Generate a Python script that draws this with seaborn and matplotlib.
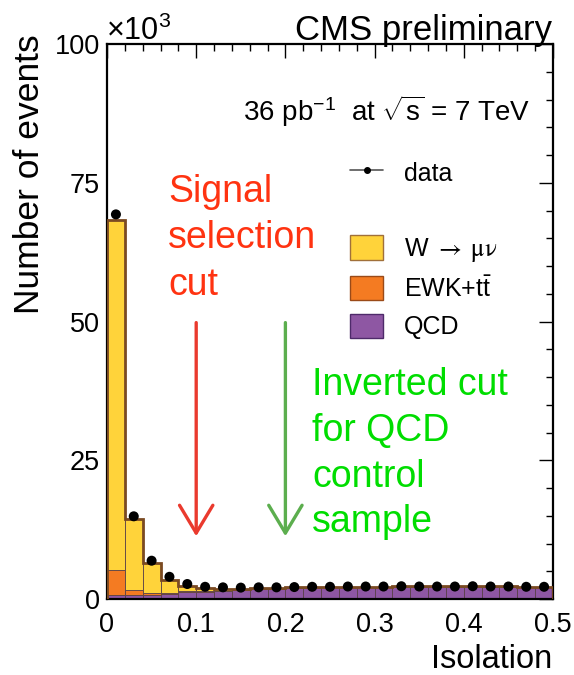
import numpy as np
import pandas as pd
import matplotlib
matplotlib.use("Agg")
import matplotlib.pyplot as plt
import seaborn as sns
from matplotlib.patches import Patch
from matplotlib.lines import Line2D

# ---------------- data (in units of 10^3 events) ----------------
bin_edges = [0.00, 0.02, 0.04, 0.06, 0.08, 0.10, 0.12, 0.14, 0.16, 0.18, 0.20,
             0.22, 0.24, 0.26, 0.28, 0.30, 0.32, 0.34, 0.36, 0.38, 0.40,
             0.42, 0.44, 0.46, 0.48, 0.50]
data_k = [69.3, 14.9, 6.9, 4.0, 2.7, 2.2, 2.1, 2.05, 2.1, 2.1, 2.15, 2.2, 2.2,
          2.25, 2.25, 2.25, 2.3, 2.25, 2.25, 2.25, 2.3, 2.25, 2.25, 2.2, 2.2]
w_k = [63.0, 12.9, 5.35, 2.3, 0.98, 0.55, 0.22, 0.18, 0.14, 0.10, 0.08, 0.07,
       0.06, 0.05, 0.05, 0.05, 0.05, 0.05, 0.05, 0.05, 0.05, 0.05, 0.05, 0.05, 0.05]
ewk_k = [4.6, 0.8, 0.35, 0.2, 0.12, 0.10, 0.08, 0.07, 0.06, 0.05, 0.05, 0.05,
         0.05, 0.05, 0.05, 0.05, 0.05, 0.05, 0.05, 0.05, 0.05, 0.05, 0.05, 0.05, 0.05]
qcd_k = [0.7, 0.8, 0.8, 0.9, 1.25, 1.35, 1.45, 1.6, 1.75, 1.85, 1.95, 2.05, 2.1,
         2.15, 2.15, 2.15, 2.2, 2.2, 2.2, 2.2, 2.2, 2.2, 2.2, 2.15, 2.15]
processes = ["W", "EWK", "QCD"]
legend_labels = [r"W $\rightarrow\ \mathrm{\mu\nu}$", r"EWK+t$\bar{\mathrm{t}}$", "QCD"]
x_ticks = [0, 0.1, 0.2, 0.3, 0.4, 0.5]
x_ticklabels = ["0", "0.1", "0.2", "0.3", "0.4", "0.5"]
y_ticks = [0, 25, 50, 75, 100]
y_ticklabels = ["0", "25", "50", "75", "100"]

# ---------------- style ----------------
sns.set_theme(style="white")
plt.rcParams["font.family"] = ["Liberation Sans", "DejaVu Sans"]
plt.rcParams["mathtext.fontset"] = "custom"
plt.rcParams["mathtext.rm"] = "Liberation Sans"
plt.rcParams["mathtext.it"] = "Liberation Sans:italic"
plt.rcParams["mathtext.bf"] = "Liberation Sans:bold"
for key in ["text.color", "axes.labelcolor", "xtick.color", "ytick.color"]:
    plt.rcParams[key] = "black"

colors = {"W": "#ffd33a", "EWK": "#f47b22", "QCD": "#8e57a3"}
edge_colors = {"W": "#a0703a", "EWK": "#9a4a18", "QCD": "#4e2a6a"}

W, H = 574, 675
fig = plt.figure(figsize=(W / 100, H / 100), dpi=100)
ax = fig.add_axes([107 / W, 1 - 599 / H, (553 - 107) / W, (599 - 44) / H])

def fx(px):
    return px / W

def fy(py):
    return 1 - py / H

edges = np.array(bin_edges)
centers = 0.5 * (edges[:-1] + edges[1:])
df = pd.DataFrame({
    "iso": np.tile(centers, 3),
    "n": np.concatenate([w_k, ewk_k, qcd_k]),
    "proc": np.repeat(processes, len(centers)),
})

sns.histplot(data=df, x="iso", weights="n", hue="proc", hue_order=processes,
             bins=list(bin_edges), multiple="stack", palette=colors, alpha=1.0,
             edgecolor="#5a4048", linewidth=0.6, legend=False, ax=ax)

total = np.array(w_k) + np.array(ewk_k) + np.array(qcd_k)
ax.stairs(total, edges, color="#7a4a22", linewidth=2.0, zorder=4)

sns.scatterplot(x=centers, y=data_k, color="black", s=52, edgecolor="none",
                zorder=6, ax=ax)

# axes
ax.set_xlim(0, 0.5)
ax.set_ylim(0, 100)
ax.set_xticks(x_ticks)
ax.set_xticklabels(x_ticklabels)
ax.set_yticks(y_ticks)
ax.set_yticklabels(y_ticklabels)
ax.set_xticks(np.arange(0, 0.5001, 0.02), minor=True)
ax.set_yticks(np.arange(0, 100.1, 5), minor=True)
ax.tick_params(which="both", direction="in", top=True, right=True,
               color="black", width=1.0, labelcolor="black")
ax.tick_params(which="major", length=10, labelsize=19.5, pad=5)
ax.tick_params(which="minor", length=5)
ax.tick_params(axis="x", which="major", pad=9)
ax.set_xlabel("")
ax.set_ylabel("")
for s in ax.spines.values():
    s.set_visible(True)
    s.set_color("black")
    s.set_linewidth(1.6)

# axis titles
fig.text(fx(552), fy(660), "Isolation", ha="right", va="center", fontsize=23.5)
fig.text(fx(30), fy(34), "Number of events", ha="center", va="top",
         rotation=90, fontsize=25.5)
fig.text(fx(106), fy(40), r"$\times10^{3}$", ha="left", va="baseline", fontsize=22)
fig.text(fx(552), fy(40), "CMS preliminary", ha="right", va="baseline", fontsize=25)
fig.text(fx(243), fy(121), r"36 pb$^{-1}$  at $\sqrt{\mathrm{s}}$ = 7 TeV",
         ha="left", va="baseline", fontsize=20)

# annotations
fig.text(fx(168), fy(174), "Signal\nselection\ncut", ha="left", va="top",
         fontsize=27, color="#ff3311", linespacing=1.37)
fig.text(fx(312), fy(367), "Inverted cut\nfor QCD\ncontrol\nsample", ha="left",
         va="top", fontsize=27, color="#00dd00", linespacing=1.35)

ax.annotate("", xy=(0.1, 11.3), xytext=(0.1, 49.8),
            arrowprops=dict(arrowstyle="->,head_length=1.0,head_width=0.6",
                            color="#ea3a2e", lw=2.4, mutation_scale=20,
                            shrinkA=0, shrinkB=0))
ax.annotate("", xy=(0.2, 11.3), xytext=(0.2, 49.8),
            arrowprops=dict(arrowstyle="->,head_length=1.0,head_width=0.6",
                            color="#5cae4e", lw=2.4, mutation_scale=20,
                            shrinkA=0, shrinkB=0))

# legend
handles = [
    Line2D([0], [0], color="#555555", lw=1.2, marker="o", markersize=4,
           markerfacecolor="black", markeredgecolor="black"),
    Line2D([], [], alpha=0),
] + [Patch(facecolor=colors[p], edgecolor=edge_colors[p], linewidth=1.0)
     for p in processes]
labels = ["data", " "] + legend_labels
leg = fig.legend(handles, labels, loc="upper left", bbox_to_anchor=(fx(350), fy(160)),
                 frameon=False, fontsize=18, borderpad=0, borderaxespad=0,
                 handlelength=1.32, handleheight=1.12, handletextpad=0.85,
                 labelspacing=0.48)
leg.get_texts()[2].set_math_fontfamily("stix")

fig.savefig("out.png", dpi=100)
